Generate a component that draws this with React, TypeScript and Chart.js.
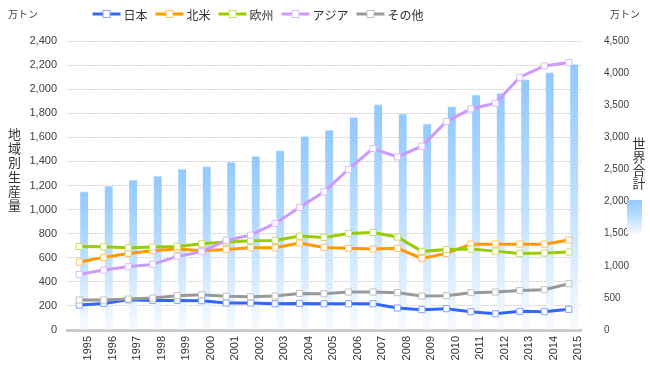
import React, { useEffect, useRef } from "react";
import { Chart, registerables } from "chart.js";

Chart.register(...registerables);

const years = [1995, 1996, 1997, 1998, 1999, 2000, 2001, 2002, 2003, 2004, 2005, 2006, 2007, 2008, 2009, 2010, 2011, 2012, 2013, 2014, 2015];
const worldTotal = [2157, 2240, 2333, 2395, 2504, 2546, 2613, 2706, 2795, 3017, 3111, 3313, 3510, 3365, 3209, 3479, 3660, 3691, 3899, 4008, 4137];
const japan = [207, 221, 251, 246, 246, 243, 224, 224, 218, 221, 218, 218, 218, 183, 169, 177, 152, 135, 155, 152, 172];
const northAmerica = [564, 603, 636, 658, 672, 658, 669, 683, 683, 722, 686, 678, 672, 678, 595, 636, 713, 713, 713, 713, 747];
const europe = [694, 691, 683, 689, 694, 716, 730, 741, 744, 780, 769, 802, 810, 772, 653, 669, 672, 655, 636, 639, 647];
const asia = [462, 498, 525, 545, 611, 650, 744, 788, 885, 1018, 1147, 1333, 1507, 1438, 1526, 1731, 1836, 1883, 2099, 2193, 2221];
const others = [249, 249, 257, 265, 285, 293, 280, 276, 282, 304, 301, 315, 315, 310, 282, 285, 310, 315, 329, 335, 384];

const seriesNames = ["日本", "北米", "欧州", "アジア", "その他"];
const worldName = "世界合計";
const unitLabel = "万トン";
const leftTitle = "地域別生産量";
const leftMax = 2400;
const leftStep = 200;
const rightMax = 4500;
const rightStep = 500;

const lineColors = ["#3366ff", "#ff9900", "#99cc00", "#cc99ff", "#999999"];
const markerBorders = ["#85a3ff", "#ffc266", "#c2e066", "#dcbcff", "#c0c0c0"];

const JP = '"Noto Sans CJK JP", "Noto Sans", sans-serif';
const NUM = '"Liberation Sans", Arial, sans-serif';

function barGradient(ctx: CanvasRenderingContext2D, top: number, bottom: number) {
  const g = ctx.createLinearGradient(0, top, 0, bottom);
  g.addColorStop(0, "rgb(146,201,252)");
  g.addColorStop(0.45, "rgb(185,221,255)");
  g.addColorStop(1, "rgb(248,251,255)");
  return g;
}

export default function App() {
  const ref = useRef<HTMLCanvasElement>(null);

  useEffect(() => {
    const canvas = ref.current;
    if (!canvas) return;
    const series = [japan, northAmerica, europe, asia, others];

    const annotations = {
      id: "annotations",
      afterDraw(chart: any) {
        const ctx: CanvasRenderingContext2D = chart.ctx;
        ctx.save();
        ctx.fillStyle = "#404040";
        ctx.font = "10px " + JP;
        ctx.textBaseline = "middle";
        ctx.textAlign = "left";
        ctx.fillText(unitLabel, 8, 14);
        ctx.fillText(unitLabel, 610, 14);

        ctx.fillStyle = "#333";
        ctx.font = "13px " + JP;
        ctx.textAlign = "center";
        Array.from(leftTitle).forEach((ch, i) => {
          ctx.fillText(ch, 14.5, 134 + i * 14.2);
        });
        Array.from(worldName).forEach((ch, i) => {
          ctx.fillText(ch, 639, 143.5 + i * 13.3);
        });
        ctx.fillStyle = barGradient(ctx, 200, 234);
        ctx.fillRect(627, 200, 15, 34);

        let x = 92.5;
        const y = 14;
        ctx.font = "12px " + JP;
        ctx.textAlign = "left";
        seriesNames.forEach((name, i) => {
          ctx.strokeStyle = lineColors[i];
          ctx.lineWidth = 3;
          ctx.beginPath();
          ctx.moveTo(x, y);
          ctx.lineTo(x + 28, y);
          ctx.stroke();
          ctx.fillStyle = "#fff";
          ctx.fillRect(x + 10.5, y - 3.5, 7, 7);
          ctx.lineWidth = 1;
          ctx.strokeStyle = markerBorders[i];
          ctx.strokeRect(x + 10.5, y - 3.5, 7, 7);
          ctx.fillStyle = "#333";
          ctx.fillText(name, x + 31, y + 1);
          x += 31 + ctx.measureText(name).width + 8;
        });
        ctx.restore();
      },
    };

    const lineDatasets = series.map((data, i) => ({
      type: "line" as const,
      label: seriesNames[i],
      data,
      xAxisID: "xl",
      yAxisID: "y",
      borderColor: lineColors[i],
      backgroundColor: "#ffffff",
      borderWidth: 3,
      pointStyle: "rect" as const,
      pointRadius: 4.3,
      pointBorderWidth: 1,
      pointBorderColor: markerBorders[i],
      pointBackgroundColor: "#ffffff",
      tension: 0,
      order: 5 - i,
    }));

    const chart = new Chart(canvas, {
      type: "bar",
      data: {
        labels: years,
        datasets: [
          {
            type: "bar" as const,
            label: worldName,
            data: worldTotal,
            xAxisID: "x",
            yAxisID: "y1",
            barThickness: 8,
            backgroundColor: (c: any) => {
              const ch = c.chart;
              const area = ch.chartArea;
              if (!area || c.raw == null) return "rgb(146,201,252)";
              const top = ch.scales.y1.getPixelForValue(c.raw);
              return barGradient(ch.ctx, top, area.bottom);
            },
            borderColor: "rgba(205,230,255,1)",
            borderWidth: { top: 1, left: 0, right: 0, bottom: 0 },
            borderSkipped: "bottom",
            order: 20,
          } as any,
          ...lineDatasets,
        ],
      },
      options: {
        responsive: false,
        animation: false,
        layout: { padding: { top: 41, left: 0, right: 0, bottom: 0 } },
        plugins: {
          legend: { display: false },
          tooltip: { enabled: false },
        },
        scales: {
          x: {
            type: "linear",
            position: "bottom",
            offset: false,
            min: years[0] - 0.865,
            max: years[years.length - 1] + 0.114,
            afterBuildTicks: (s: any) => {
              s.ticks = years.map((v) => ({ value: v }));
            },
            afterFit: (s: any) => {
              s.height = 50;
            },
            grid: { drawOnChartArea: false, drawTicks: false, offset: false },
            border: { display: true, color: "#c8c8c8", width: 3 },
            ticks: {
              autoSkip: false,
              minRotation: 90,
              maxRotation: 90,
              padding: 6,
              color: "#333",
              font: { size: 11, family: NUM },
              callback: (v: any) => String(v),
            },
          },
          xl: {
            type: "linear",
            display: false,
            offset: false,
            min: years[0] - 0.5,
            max: years[years.length - 1] + 0.5,
          },
          y: {
            type: "linear",
            position: "left",
            min: 0,
            max: leftMax,
            afterFit: (s: any) => {
              s.width = 67;
            },
            grid: { color: "#d2d2d2", lineWidth: 1, drawTicks: false },
            border: { display: false, dash: [2, 1] },
            ticks: {
              stepSize: leftStep,
              padding: 10,
              color: "#404040",
              font: { size: 11, family: NUM },
              callback: (v: any) => Number(v).toLocaleString("en-US"),
            },
          },
          y1: {
            type: "linear",
            position: "right",
            min: 0,
            max: rightMax,
            afterFit: (s: any) => {
              s.width = 69;
            },
            grid: { drawOnChartArea: false, drawTicks: false },
            border: { display: false },
            ticks: {
              stepSize: rightStep,
              padding: 23,
              color: "#404040",
              font: { size: 10, family: NUM },
              callback: (v: any) => Number(v).toLocaleString("en-US"),
            },
          },
        },
      } as any,
      plugins: [annotations],
    });

    return () => chart.destroy();
  }, []);

  return (
    <div style={{ position: "fixed", left: 0, top: 0, width: 650, height: 380, background: "#fff" }}>
      <canvas ref={ref} width={650} height={380} style={{ display: "block" }} />
    </div>
  );
}
